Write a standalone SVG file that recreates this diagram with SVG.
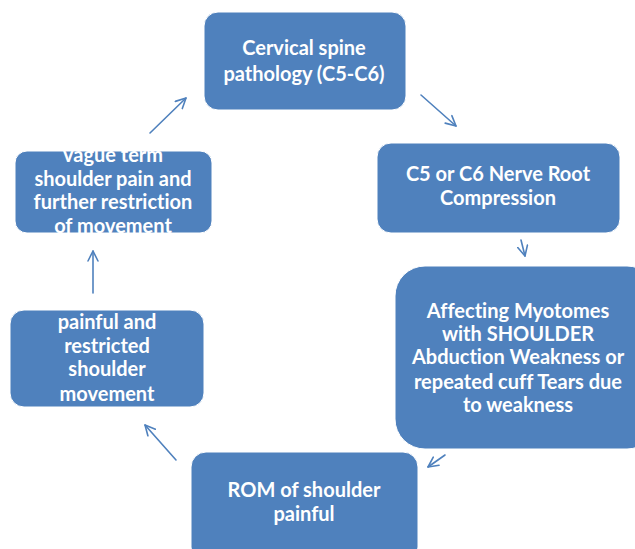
<svg xmlns="http://www.w3.org/2000/svg" width="635" height="549" viewBox="0 0 635 549">
<style>
.box{fill:#4f81bd;stroke:#ffffff;stroke-width:1}
.t{font-family:"Lato","Liberation Sans",sans-serif;font-weight:bold;font-size:20px;fill:#ffffff;text-anchor:middle;font-variant-ligatures:none}
.c{fill:none;stroke:#4f81bd;stroke-width:1.6;stroke-linecap:round;stroke-linejoin:round}
</style>
<defs>
<marker id="ah" viewBox="0 0 12 12" refX="11" refY="6" markerWidth="12" markerHeight="12" markerUnits="userSpaceOnUse" orient="auto">
<path d="M1,1 L11,6 L1,11" fill="none" stroke="#4f81bd" stroke-width="1.6" stroke-linecap="round" stroke-linejoin="round"/>
</marker>
<clipPath id="cv"><rect x="15" y="151" width="197" height="82" rx="12"/></clipPath>
</defs>
<rect width="635" height="549" fill="#ffffff"/>
<g id="n1">
<rect class="box" x="204" y="12" width="202" height="98" rx="14"/>
<text class="t" x="304" y="55">Cervical spine</text>
<text class="t" x="304" y="81">pathology (C5-C6)</text>
</g>
<g id="n2">
<rect class="box" x="377" y="143" width="243" height="90" rx="14"/>
<text class="t" x="498" y="181">C5 or C6 Nerve Root</text>
<text class="t" x="498" y="205">Compression</text>
</g>
<g id="n3">
<rect class="box" x="395" y="266" width="262" height="183" rx="30"/>
<text class="t" x="518" y="318">Affecting Myotomes</text>
<text class="t" x="518" y="341">with SHOULDER</text>
<text class="t" x="518" y="364">Abduction Weakness or</text>
<text class="t" x="518" y="389">repeated cuff Tears due</text>
<text class="t" x="518" y="412">to weakness</text>
</g>
<g id="n4">
<rect class="box" x="191" y="452" width="227" height="110" rx="15"/>
<text class="t" x="304" y="497">ROM of shoulder</text>
<text class="t" x="304" y="521">painful</text>
</g>
<g id="n5">
<rect class="box" x="10" y="310" width="194" height="97" rx="14"/>
<text class="t" x="107" y="329">painful and</text>
<text class="t" x="107" y="353">restricted</text>
<text class="t" x="107" y="376">shoulder</text>
<text class="t" x="107" y="401">movement</text>
</g>
<g id="n6">
<rect class="box" x="15" y="151" width="197" height="82" rx="12"/>
<g clip-path="url(#cv)">
<text class="t" x="113" y="162">vague term</text>
<text class="t" x="113" y="186">shoulder pain and</text>
<text class="t" x="113" y="209">further restriction</text>
<text class="t" x="113" y="233">of movement</text>
</g>
</g>
<g id="connectors">
<path class="c" d="M150,133 L186,98" marker-end="url(#ah)"/>
<path class="c" d="M421,95 L456,126" marker-end="url(#ah)"/>
<path class="c" d="M521,240 L525,256" marker-end="url(#ah)"/>
<path class="c" d="M445,455 L428,467" marker-end="url(#ah)"/>
<path class="c" d="M176,460 L145,425" marker-end="url(#ah)"/>
<path class="c" d="M93,293 L93,251" marker-end="url(#ah)"/>
</g>
</svg>
